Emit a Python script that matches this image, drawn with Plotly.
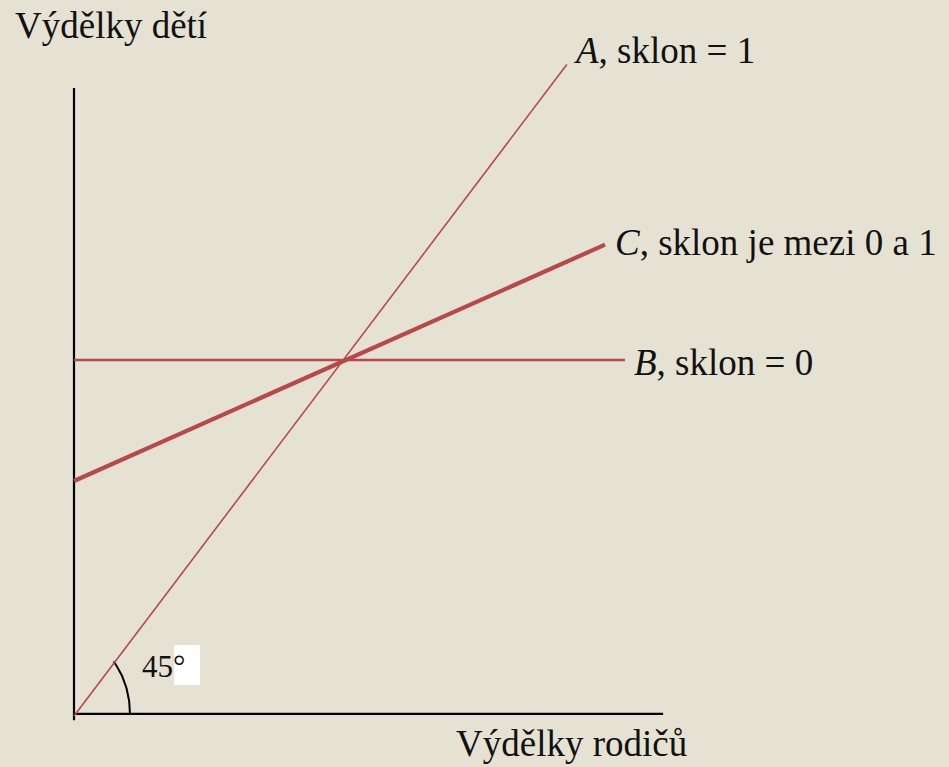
import numpy as np
import plotly.graph_objects as go

# --- data (economic units: parents' earnings on x, children's earnings on y) ---
line_a_x = [0, 91.6]          # A, slope = 1
line_a_y = [0, 91.5]
line_b_x = [0, 102.4]         # B, slope = 0
line_b_y = [50, 50]
line_c_x = [0, 98.7]          # C, slope between 0 and 1
line_c_y = [33.0, 66.2]
axis_x_end = 109.5
axis_y_end = 88.2
arc_radius = 10.4
arc_angle_deg = 45

labels = {
    "A": "<i>A</i>, sklon = 1",
    "B": "<i>B</i>, sklon = 0",
    "C": "<i>C</i>, sklon je mezi 0 a 1",
}
y_title = "Výdělky dětí"
x_title = "Výdělky rodičů"
angle_label = "45°"

RED = "#B8484A"
BG = "#E6E2D3"
FONT = "Times New Roman"

fig = go.Figure()

# axes
fig.add_trace(go.Scatter(x=[0, 0], y=[-0.6, axis_y_end], mode="lines",
                         line=dict(color="black", width=2.2), hoverinfo="skip"))
fig.add_trace(go.Scatter(x=[0, axis_x_end], y=[0.3, 0.3], mode="lines",
                         line=dict(color="black", width=2.2), hoverinfo="skip"))

# arc for 45 degrees
t = np.linspace(0, np.deg2rad(arc_angle_deg), 40)
fig.add_trace(go.Scatter(x=arc_radius * np.cos(t), y=arc_radius * np.sin(t) + 0.3,
                         mode="lines", line=dict(color="black", width=2),
                         hoverinfo="skip"))

fig.add_trace(go.Scatter(x=line_b_x, y=line_b_y, mode="lines",
                         line=dict(color=RED, width=2.6), hoverinfo="skip"))
fig.add_trace(go.Scatter(x=line_c_x, y=line_c_y, mode="lines",
                         line=dict(color=RED, width=4.2), hoverinfo="skip"))
fig.add_trace(go.Scatter(x=line_a_x, y=line_a_y, mode="lines",
                         line=dict(color=RED, width=1.6), hoverinfo="skip"))

# white box behind degree sign
fig.add_shape(type="rect", x0=18.6, x1=23.4, y0=4.35, y1=9.97,
              fillcolor="white", line=dict(width=0), layer="above")

def ann(x, y, text, size=37):
    fig.add_annotation(x=x, y=y, text=text, showarrow=False, xanchor="left",
                       yanchor="middle", font=dict(family=FONT, size=size, color="#111"))

ann(line_a_x[1] + 0.85, line_a_y[1] + 1.9, labels["A"])
ann(line_c_x[1] + 1.5, line_c_y[1] + 0.3, labels["C"])
ann(line_b_x[1] + 1.3, line_b_y[1] - 0.4, labels["B"])
ann(-11.25, 97.0, y_title)
ann(70.7, -3.9, x_title)
ann(12.2, 6.9, angle_label, size=31)

fig.update_layout(
    width=949, height=767,
    margin=dict(l=0, r=0, t=0, b=0),
    paper_bgcolor=BG, plot_bgcolor=BG,
    showlegend=False,
    font=dict(family=FONT),
    xaxis=dict(range=[-74 / 5.38, (949 - 74) / 5.38], visible=False, fixedrange=True),
    yaxis=dict(range=[-(767 - 716) / 7.12, 716 / 7.12], visible=False, fixedrange=True),
)

fig.write_html("out.html", config={"displayModeBar": False},
               post_script="document.body.style.margin='0';document.body.style.overflow='hidden';")
